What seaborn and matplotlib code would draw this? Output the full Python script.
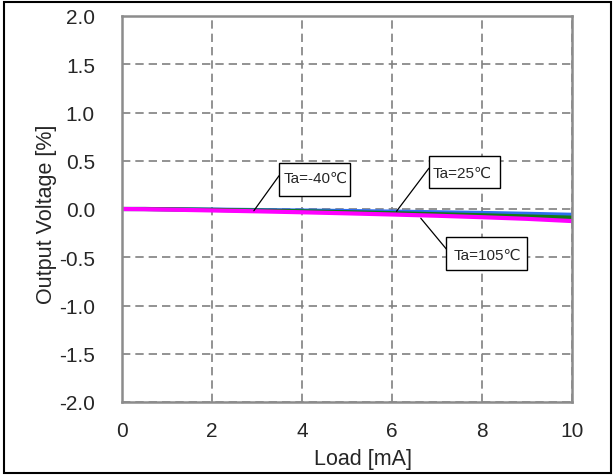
import numpy as np
import pandas as pd
import matplotlib
matplotlib.use("Agg")
from matplotlib import pyplot as plt
from matplotlib.patches import Rectangle
import seaborn as sns

# values
load_ma = [0, 0.5, 1, 2, 3, 4, 5, 6, 7, 8, 9, 10]
vout_m40 = [0.0, 0.0, -0.002, -0.006, -0.011, -0.016, -0.021, -0.027, -0.034, -0.041, -0.050, -0.060]
vout_25 = [0.0, 0.0, -0.003, -0.009, -0.016, -0.024, -0.033, -0.043, -0.054, -0.065, -0.077, -0.090]
vout_105 = [0.0, -0.002, -0.006, -0.015, -0.024, -0.034, -0.045, -0.057, -0.070, -0.085, -0.102, -0.125]
series_names = ["Ta=-40℃", "Ta=25℃", "Ta=105℃"]
series_colors = ["#2f6ef0", "#137a13", "#ff00ff"]

# callout boxes: (x0, x1, y_top, y_bottom) in data units, leader (from, to)
box_extents = [(3.49, 5.07, 0.477, 0.135), (6.82, 8.40, 0.552, 0.215), (7.21, 9.00, -0.293, -0.632)]
text_pos = [(3.60, 0.280), (6.91, 0.332), (7.36, -0.518)]
leaders = [((3.49, 0.345), (2.93, -0.018)), ((6.82, 0.422), (6.10, -0.024)), ((7.22, -0.422), (6.64, -0.096))]

df = pd.concat([
    pd.DataFrame({"Load [mA]": load_ma, "Output Voltage [%]": v, "temp": name})
    for v, name in zip([vout_m40, vout_25, vout_105], series_names)
])

sns.set_style("white")
plt.rcParams["font.family"] = ["Liberation Sans", "DejaVu Sans"]

fig = plt.figure(figsize=(6.14, 4.77), dpi=100)
ax = fig.add_axes([122 / 614, 1 - 403 / 477, 450 / 614, 386 / 477])

sns.lineplot(data=df, x="Load [mA]", y="Output Voltage [%]", hue="temp",
             palette=series_colors, linewidth=3, legend=False, ax=ax)

ax.set_xlim(0, 10)
ax.set_ylim(-2, 2)
ax.set_xticks(np.arange(0, 11, 2))
ax.set_yticks(np.arange(-2, 2.01, 0.5))
ax.set_yticklabels([f"{v:.1f}" for v in np.arange(-2, 2.01, 0.5)])
ax.tick_params(labelsize=15, length=0)
ax.tick_params(axis="y", pad=19.5)
ax.tick_params(axis="x", pad=13.5)
ax.set_xlabel("Load [mA]", fontsize=15.5)
ax.set_ylabel("Output Voltage [%]", fontsize=15.5)
ax.xaxis.set_label_coords(0.536, -0.118)
ax.yaxis.set_label_coords(-0.144, 0.488)
ax.grid(True, color="#808080", linestyle=(0, (5, 3)), linewidth=1.2)
for s in ax.spines.values():
    s.set_color("#8c8c8c")
    s.set_linewidth(1.8)

# callouts
for name, (x0, x1, yt, yb), (tx, ty), (p0, p1) in zip(series_names, box_extents, text_pos, leaders):
    ax.plot([p0[0], p1[0]], [p0[1], p1[1]], color="black", lw=0.9, zorder=4)
    ax.add_patch(Rectangle((x0, yb), x1 - x0, yt - yb, fc="white", ec="black",
                           lw=1, zorder=5))
    ax.text(tx, ty, name, fontsize=11, ha="left", va="baseline", zorder=6)

fig.patches.append(Rectangle((4 / 614, 3 / 477), 607 / 614, 471 / 477,
                             transform=fig.transFigure, fill=False,
                             ec="black", lw=1.5))

fig.savefig("out.png", dpi=100)
